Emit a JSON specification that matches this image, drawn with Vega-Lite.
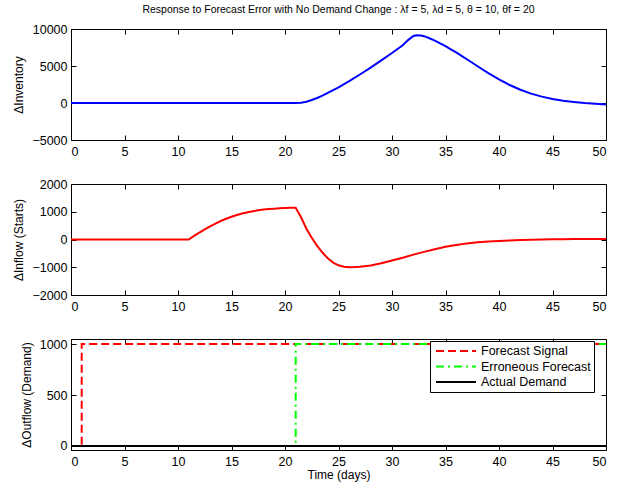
{
  "$schema": "https://vega.github.io/schema/vega-lite/v6.json",
  "background": "white",
  "padding": {"left": 12, "top": 4, "right": 5, "bottom": 5},
  "config": {
    "font": "Liberation Sans",
    "view": {"stroke": "black", "strokeWidth": 1},
    "axis": {
      "grid": false,
      "domain": false,
      "tickColor": "black",
      "tickSize": -5,
      "tickWidth": 1,
      "labelFont": "Liberation Sans",
      "labelFontSize": 12.5,
      "labelColor": "black",
      "titleFont": "Liberation Sans",
      "titleFontSize": 12,
      "titleFontWeight": "normal",
      "titleColor": "black"
    },
    "axisX": {"labelPadding": 10, "titlePadding": 2},
    "axisY": {"labelPadding": 9, "titlePadding": 6},
    "legend": {
      "strokeColor": "black",
      "fillColor": "white",
      "padding": 3,
      "cornerRadius": 0,
      "symbolType": "M-0.667,0H6",
      "symbolSize": 144,
      "symbolStrokeWidth": 2,
      "labelFont": "Liberation Sans",
      "labelFontSize": 12.5,
      "labelColor": "black",
      "labelOffset": 34,
      "rowPadding": 1.5
    }
  },
  "datasets": {
    "inventory": [
      {"t": 0, "v": 0}, {"t": 21, "v": 0}, {"t": 21.5, "v": 30}, {"t": 22, "v": 160},
      {"t": 22.5, "v": 400}, {"t": 23, "v": 680}, {"t": 23.5, "v": 1000}, {"t": 24, "v": 1380},
      {"t": 24.5, "v": 1750}, {"t": 25, "v": 2120}, {"t": 26, "v": 2950}, {"t": 27, "v": 3850},
      {"t": 28, "v": 4780}, {"t": 29, "v": 5750}, {"t": 30, "v": 6750}, {"t": 31, "v": 7800},
      {"t": 31.5, "v": 8500}, {"t": 32, "v": 9050}, {"t": 32.3, "v": 9150}, {"t": 32.7, "v": 9120},
      {"t": 33, "v": 9030}, {"t": 33.5, "v": 8750}, {"t": 34, "v": 8430}, {"t": 34.5, "v": 8060},
      {"t": 35, "v": 7680}, {"t": 35.5, "v": 7260}, {"t": 36, "v": 6830}, {"t": 36.5, "v": 6370},
      {"t": 37, "v": 5910}, {"t": 38, "v": 4970}, {"t": 39, "v": 4050}, {"t": 40, "v": 3190},
      {"t": 41, "v": 2430}, {"t": 42, "v": 1790}, {"t": 43, "v": 1270}, {"t": 44, "v": 860},
      {"t": 45, "v": 550}, {"t": 46, "v": 300}, {"t": 47, "v": 130}, {"t": 48, "v": -10},
      {"t": 49, "v": -110}, {"t": 50, "v": -190}
    ],
    "inflow": [
      {"t": 0, "v": 0}, {"t": 11, "v": 0}, {"t": 11.5, "v": 130}, {"t": 12, "v": 250},
      {"t": 12.5, "v": 365}, {"t": 13, "v": 475}, {"t": 13.5, "v": 575}, {"t": 14, "v": 667},
      {"t": 14.5, "v": 749}, {"t": 15, "v": 821}, {"t": 15.5, "v": 883}, {"t": 16, "v": 937},
      {"t": 16.5, "v": 983}, {"t": 17, "v": 1021}, {"t": 17.5, "v": 1052}, {"t": 18, "v": 1077},
      {"t": 18.5, "v": 1097}, {"t": 19, "v": 1112}, {"t": 19.5, "v": 1124}, {"t": 20, "v": 1133},
      {"t": 20.5, "v": 1140}, {"t": 21, "v": 1145}, {"t": 21.5, "v": 800}, {"t": 22, "v": 390},
      {"t": 22.5, "v": 60}, {"t": 23, "v": -230}, {"t": 23.5, "v": -470}, {"t": 24, "v": -680},
      {"t": 24.5, "v": -830}, {"t": 25, "v": -930}, {"t": 25.5, "v": -985}, {"t": 26, "v": -1000},
      {"t": 26.5, "v": -995}, {"t": 27, "v": -985}, {"t": 28, "v": -935}, {"t": 29, "v": -855},
      {"t": 30, "v": -755}, {"t": 31, "v": -655}, {"t": 32, "v": -545}, {"t": 33, "v": -445},
      {"t": 34, "v": -350}, {"t": 35, "v": -260}, {"t": 36, "v": -195}, {"t": 37, "v": -140},
      {"t": 38, "v": -100}, {"t": 39, "v": -72}, {"t": 40, "v": -50}, {"t": 41, "v": -32},
      {"t": 42, "v": -18}, {"t": 43, "v": -6}, {"t": 44, "v": 2}, {"t": 45, "v": 8},
      {"t": 46, "v": 12}, {"t": 47, "v": 15}, {"t": 48, "v": 18}, {"t": 49, "v": 20},
      {"t": 50, "v": 22}
    ],
    "outflow": [
      {"series": "Forecast Signal", "i": 0, "t": 0, "v": 0},
      {"series": "Forecast Signal", "i": 1, "t": 1, "v": 0},
      {"series": "Forecast Signal", "i": 2, "t": 1, "v": 1000},
      {"series": "Forecast Signal", "i": 3, "t": 50, "v": 1000},
      {"series": "Erroneous Forecast", "i": 0, "t": 0, "v": 0},
      {"series": "Erroneous Forecast", "i": 1, "t": 21, "v": 0},
      {"series": "Erroneous Forecast", "i": 2, "t": 21, "v": 1000},
      {"series": "Erroneous Forecast", "i": 3, "t": 50, "v": 1000},
      {"series": "Actual Demand", "i": 0, "t": 0, "v": 0},
      {"series": "Actual Demand", "i": 1, "t": 50, "v": 0}
    ]
  },
  "vconcat": [
    {
      "title": {
        "text": "Response to Forecast Error with No Demand Change : λf = 5, λd = 5, θ = 10, θf = 20",
        "font": "Liberation Sans",
        "fontSize": 10.5,
        "fontWeight": "normal",
        "color": "black",
        "anchor": "middle",
        "frame": "group",
        "offset": 8
      },
      "width": 535,
      "height": 111,
      "data": {"name": "inventory"},
      "layer": [
        {
          "mark": {"type": "line", "color": "#0000ff", "strokeWidth": 2},
          "encoding": {
            "x": {"field": "t", "type": "quantitative", "scale": {"domain": [0, 50], "nice": false},
                  "axis": {"values": [0, 5, 10, 15, 20, 25, 30, 35, 40, 45, 50], "format": "d", "title": null}},
            "y": {"field": "v", "type": "quantitative", "scale": {"domain": [-5000, 10000], "nice": false, "zero": false},
                  "axis": {"values": [-5000, 0, 5000, 10000], "format": "d", "title": "ΔInventory"}}
          }
        },
        {
          "mark": {"type": "point", "opacity": 0},
          "encoding": {
            "x": {"field": "t", "type": "quantitative",
                  "axis": {"orient": "top", "labels": false, "title": null, "values": [0, 5, 10, 15, 20, 25, 30, 35, 40, 45, 50]}},
            "y": {"field": "v", "type": "quantitative",
                  "axis": {"orient": "right", "labels": false, "title": null, "values": [-5000, 0, 5000, 10000]}}
          }
        }
      ],
      "resolve": {"axis": {"x": "independent", "y": "independent"}}
    },
    {
      "width": 535,
      "height": 111,
      "data": {"name": "inflow"},
      "layer": [
        {
          "mark": {"type": "line", "color": "#ff0000", "strokeWidth": 2},
          "encoding": {
            "x": {"field": "t", "type": "quantitative", "scale": {"domain": [0, 50], "nice": false},
                  "axis": {"values": [0, 5, 10, 15, 20, 25, 30, 35, 40, 45, 50], "format": "d", "title": null}},
            "y": {"field": "v", "type": "quantitative", "scale": {"domain": [-2000, 2000], "nice": false},
                  "axis": {"values": [-2000, -1000, 0, 1000, 2000], "format": "d", "title": "ΔInflow (Starts)"}}
          }
        },
        {
          "mark": {"type": "point", "opacity": 0},
          "encoding": {
            "x": {"field": "t", "type": "quantitative",
                  "axis": {"orient": "top", "labels": false, "title": null, "values": [0, 5, 10, 15, 20, 25, 30, 35, 40, 45, 50]}},
            "y": {"field": "v", "type": "quantitative",
                  "axis": {"orient": "right", "labels": false, "title": null, "values": [-2000, -1000, 0, 1000, 2000]}}
          }
        }
      ],
      "resolve": {"axis": {"x": "independent", "y": "independent"}}
    },
    {
      "width": 535,
      "height": 111,
      "data": {"name": "outflow"},
      "layer": [
        {
          "mark": {"type": "line", "strokeWidth": 2},
          "encoding": {
            "x": {"field": "t", "type": "quantitative", "scale": {"domain": [0, 50], "nice": false},
                  "axis": {"values": [0, 5, 10, 15, 20, 25, 30, 35, 40, 45, 50], "format": "d", "title": "Time (days)"}},
            "y": {"field": "v", "type": "quantitative", "scale": {"domain": [-40, 1050], "nice": false, "zero": false},
                  "axis": {"values": [0, 500, 1000], "format": "d", "title": "ΔOutflow (Demand)"}},
            "color": {"field": "series", "type": "nominal",
                      "scale": {"domain": ["Forecast Signal", "Erroneous Forecast", "Actual Demand"], "range": ["#ff0000", "#00ff00", "#000000"]},
                      "legend": {"orient": "none", "legendX": 359, "legendY": 2, "title": null}},
            "strokeDash": {"field": "series", "type": "nominal",
                      "scale": {"domain": ["Forecast Signal", "Erroneous Forecast", "Actual Demand"], "range": [[8, 4], [8, 4, 2, 4], [1, 0]]},
                      "legend": {"orient": "none", "legendX": 359, "legendY": 2, "title": null}},
            "order": {"field": "i", "type": "quantitative"}
          }
        },
        {
          "mark": {"type": "point", "opacity": 0},
          "encoding": {
            "x": {"field": "t", "type": "quantitative",
                  "axis": {"orient": "top", "labels": false, "title": null, "values": [0, 5, 10, 15, 20, 25, 30, 35, 40, 45, 50]}},
            "y": {"field": "v", "type": "quantitative",
                  "axis": {"orient": "right", "labels": false, "title": null, "values": [0, 500, 1000]}}
          }
        }
      ],
      "resolve": {"axis": {"x": "independent", "y": "independent"}}
    }
  ],
  "spacing": 44,
  "bounds": "flush",
  "resolve": {
    "scale": {"x": "independent", "y": "independent", "color": "independent", "strokeDash": "independent"},
    "legend": {"color": "independent", "strokeDash": "independent"}
  }
}
